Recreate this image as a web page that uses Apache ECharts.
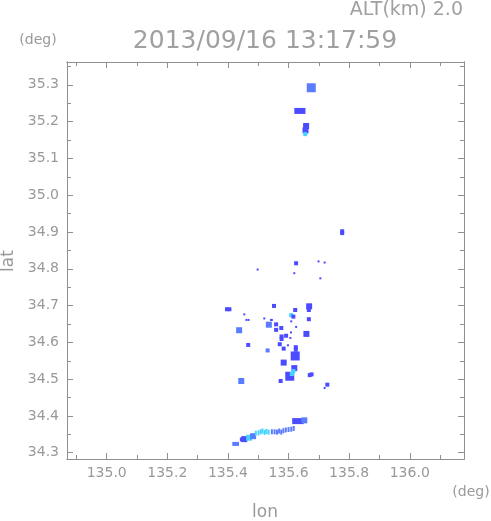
<!DOCTYPE html>
<html><head><meta charset="utf-8">
<script src="https://cdn.jsdelivr.net/npm/echarts@6/dist/echarts.min.js"></script>
<style>html,body{margin:0;padding:0;background:#fff}#c{width:491px;height:521px}</style>
</head><body><div id="c"></div>
<script>
// Axis ranges and ticks (degrees)
const lonRange = [134.869, 136.179];
const latRange = [34.283, 35.362];
const lonMajor = [135.0, 135.2, 135.4, 135.6, 135.8, 136.0];
const lonMinor = [134.9, 135.1, 135.3, 135.5, 135.7, 135.9, 136.1];
const latMajor = [34.3, 34.4, 34.5, 34.6, 34.7, 34.8, 34.9, 35.0, 35.1, 35.2, 35.3];
const latMinor = [34.35, 34.45, 34.55, 34.65, 34.75, 34.85, 34.95, 35.05, 35.15, 35.25, 35.35];

const titleText = "2013/09/16 13:17:59";
const altText = "ALT(km) 2.0";
const xName = "lon", yName = "lat", unitText = "(deg)";

// echo cells: [lon, lat, level]  (1 = dark blue, 2 = blue, 3 = cyan)
const cellsLarge = [
  [135.675, 35.292, 2],
  [135.622, 34.563, 1],
  [135.604, 34.508, 1]
];
const cellsMid = [
  [135.629, 35.229, 1], [135.646, 35.229, 1],
  [135.658, 35.188, 1], [135.656, 35.176, 1],
  [135.437, 34.633, 2], [135.535, 34.648, 2],
  [135.659, 34.623, 1], [135.584, 34.545, 1],
  [135.619, 34.530, 1], [135.444, 34.495, 2],
  [135.668, 34.698, 1],
  [135.622, 34.386, 1], [135.640, 34.386, 1], [135.652, 34.388, 2],
  [135.454, 34.337, 1], [135.470, 34.341, 3], [135.483, 34.345, 2]
];
const cellsSmall = [
  [135.777, 34.902, 1], [135.777, 34.897, 1],
  [135.625, 34.815, 1],
  [135.397, 34.690, 1], [135.405, 34.690, 1],
  [135.552, 34.699, 1], [135.667, 34.688, 1],
  [135.609, 34.674, 3], [135.622, 34.688, 1], [135.616, 34.670, 1],
  [135.667, 34.663, 1], [135.559, 34.649, 1], [135.559, 34.634, 1],
  [135.576, 34.639, 1], [135.577, 34.616, 1], [135.577, 34.609, 1],
  [135.592, 34.618, 1], [135.467, 34.593, 1], [135.571, 34.595, 1],
  [135.584, 34.583, 1], [135.624, 34.587, 1], [135.624, 34.580, 1],
  [135.531, 34.578, 2], [135.616, 34.522, 3], [135.611, 34.514, 3],
  [135.676, 34.513, 1], [135.670, 34.511, 1], [135.574, 34.495, 1],
  [135.728, 34.485, 1], [135.655, 35.166, 3],
  [135.421, 34.324, 2], [135.430, 34.324, 2], [135.446, 34.336, 1]
];
const cellsDot = [
  [135.699, 34.820, 1], [135.719, 34.817, 1], [135.498, 34.798, 1],
  [135.619, 34.788, 1], [135.705, 34.774, 1], [135.454, 34.676, 1],
  [135.461, 34.661, 1], [135.468, 34.661, 1], [135.520, 34.665, 1],
  [135.542, 34.661, 1], [135.545, 34.661, 1], [135.609, 34.657, 1],
  [135.625, 34.642, 1], [135.608, 34.627, 1], [135.606, 34.612, 1],
  [135.598, 34.592, 1], [135.719, 34.476, 1]
];
const streaks = [
  [135.492, 34.353, 3], [135.501, 34.354, 3], [135.508, 34.357, 3],
  [135.514, 34.359, 3], [135.521, 34.355, 3], [135.527, 34.358, 3],
  [135.534, 34.356, 3], [135.545, 34.357, 2], [135.554, 34.357, 2],
  [135.562, 34.356, 2], [135.569, 34.359, 2], [135.576, 34.356, 2],
  [135.583, 34.360, 2], [135.591, 34.362, 2], [135.600, 34.363, 2],
  [135.609, 34.364, 2], [135.617, 34.366, 2]
];

const levelColors = {1: '#4b4bff', 2: '#5a7cff', 3: '#44d4ff'};
const axisGray = '#909090';
const textGray = '#999999';
const FONT = 'DejaVu Sans';

function xAx(pos, ticks, len, labels) {
  return {
    type: 'value', position: pos, min: lonRange[0], max: lonRange[1],
    axisLine: {show: true, lineStyle: {color: axisGray, width: 1}},
    axisTick: {show: true, inside: true, length: len, customValues: ticks, lineStyle: {color: axisGray}},
    axisLabel: labels ? {show: true, customValues: lonMajor, formatter: v => v.toFixed(1), margin: 7,
      fontFamily: FONT, fontSize: 14, color: textGray} : {show: false},
    splitLine: {show: false}
  };
}
function yAx(pos, ticks, len, labels) {
  return {
    type: 'value', position: pos, min: latRange[0], max: latRange[1],
    axisLine: {show: true, lineStyle: {color: axisGray, width: 1}},
    axisTick: {show: true, inside: true, length: len, customValues: ticks, lineStyle: {color: axisGray}},
    axisLabel: labels ? {show: true, customValues: latMajor, formatter: v => v.toFixed(1), margin: 8,
      fontFamily: FONT, fontSize: 14, color: textGray} : {show: false},
    splitLine: {show: false}
  };
}
function sc(data, size) {
  return {
    type: 'scatter', xAxisIndex: 0, yAxisIndex: 0, symbol: 'rect', symbolSize: size,
    data: data, silent: true, animation: false,
    itemStyle: {color: p => levelColors[p.value[2]], opacity: 1}
  };
}

const chart = echarts.init(document.getElementById('c'), null, {renderer: 'canvas'});
chart.setOption({
  animation: false,
  backgroundColor: '#fff',
  grid: {left: 67, top: 62, width: 397, height: 397, outerBoundsMode: 'none', containLabel: false},
  xAxis: [
    xAx('bottom', lonMajor, 6, true),
    xAx('bottom', lonMinor, 4, false),
    xAx('top', lonMajor, 6, false),
    xAx('top', lonMinor, 4, false)
  ],
  yAxis: [
    yAx('left', latMajor, 6, true),
    yAx('left', latMinor, 4, false),
    yAx('right', latMajor, 6, false),
    yAx('right', latMinor, 4, false)
  ],
  series: [
    sc(cellsLarge, 9),
    sc(cellsMid, 6),
    sc(cellsSmall, 4),
    sc(cellsDot, 2),
    sc(streaks, [2, 5])
  ],
  graphic: [
    {type: 'text', style: {text: titleText, x: 265, y: 41, textAlign: 'center', textVerticalAlign: 'middle',
      font: '25px "DejaVu Sans"', fill: '#a0a0a0'}},
    {type: 'text', style: {text: altText, x: 463, y: 10, textAlign: 'right', textVerticalAlign: 'middle',
      font: '19px "DejaVu Sans"', fill: '#a0a0a0'}},
    {type: 'text', style: {text: unitText, x: 38, y: 40, textAlign: 'center', textVerticalAlign: 'middle',
      font: '14px "DejaVu Sans"', fill: textGray}},
    {type: 'text', style: {text: unitText, x: 471, y: 492, textAlign: 'center', textVerticalAlign: 'middle',
      font: '14px "DejaVu Sans"', fill: textGray}},
    {type: 'text', style: {text: xName, x: 265, y: 513, textAlign: 'center', textVerticalAlign: 'middle',
      font: '17px "DejaVu Sans"', fill: textGray}},
    {type: 'text', x: 9, y: 261, rotation: Math.PI / 2, style: {text: yName, x: 0, y: 0, textAlign: 'center', textVerticalAlign: 'middle',
      font: '17px "DejaVu Sans"', fill: textGray}}
  ]
});
</script>
</body></html>
